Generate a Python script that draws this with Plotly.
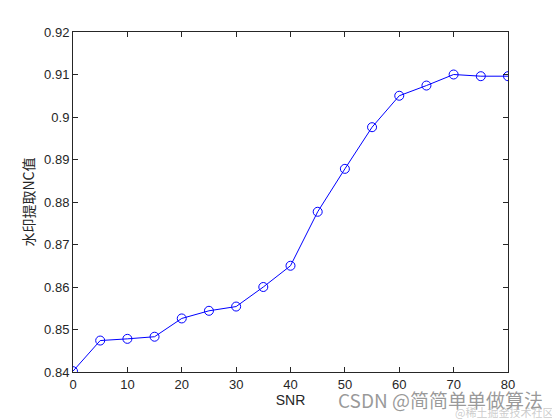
import plotly.graph_objects as go

snr = [0, 5, 10, 15, 20, 25, 30, 35, 40, 45, 50, 55, 60, 65, 70, 75, 80]
nc = [0.8402, 0.8474, 0.8478, 0.8483, 0.8526, 0.8544, 0.8554, 0.8600, 0.8650,
      0.8777, 0.8878, 0.8976, 0.9050, 0.9074, 0.9100, 0.9096, 0.9096]

x_ticks = [0, 10, 20, 30, 40, 50, 60, 70, 80]
y_ticks = [0.84, 0.85, 0.86, 0.87, 0.88, 0.89, 0.90, 0.91, 0.92]
y_tick_labels = ["0.84", "0.85", "0.86", "0.87", "0.88", "0.89", "0.9", "0.91", "0.92"]

fig = go.Figure()
fig.add_trace(go.Scatter(
    x=snr, y=nc, mode="lines+markers",
    line=dict(color="#0000ff", width=1),
    marker=dict(symbol="circle-open", size=9, color="#0000ff", line=dict(width=1)),
    showlegend=False,
))

axis_common = dict(
    showline=True, linecolor="#262626", linewidth=1, mirror="ticks",
    ticks="inside", ticklen=5, tickcolor="#262626", tickwidth=1,
    showgrid=False, zeroline=False,
    tickfont=dict(family="Liberation Sans, Arial", size=13, color="#262626"),
)

fig.update_layout(
    width=560, height=420,
    margin=dict(l=65, r=60, t=24, b=56),
    paper_bgcolor="white", plot_bgcolor="white",
    xaxis=dict(range=[0, 80], tickvals=x_ticks, **axis_common,
               title=dict(text="SNR", standoff=2,
                          font=dict(family="Liberation Sans, Arial", size=14, color="#262626"))),
    yaxis=dict(range=[0.84, 0.92], tickvals=y_ticks, ticktext=y_tick_labels, **axis_common,
               title=dict(text="水印提取NC值", standoff=6,
                          font=dict(family="Noto Sans CJK SC, Liberation Sans", size=14, color="#262626"))),
    annotations=[
        dict(text="CSDN @简简单单做算法", xref="paper", yref="paper", x=1.085, y=-0.082,
             xanchor="right", yanchor="middle", showarrow=False,
             font=dict(family="Noto Sans CJK SC, Liberation Sans", size=19, color="rgba(120,120,120,0.75)")),
        dict(text="@稀土掘金技术社区", xref="paper", yref="paper", x=1.108, y=-0.118,
             xanchor="right", yanchor="middle", showarrow=False,
             font=dict(family="Noto Sans CJK SC, Liberation Sans", size=11, color="rgba(170,170,170,0.6)")),
    ],
)

fig.write_html("out.html")
